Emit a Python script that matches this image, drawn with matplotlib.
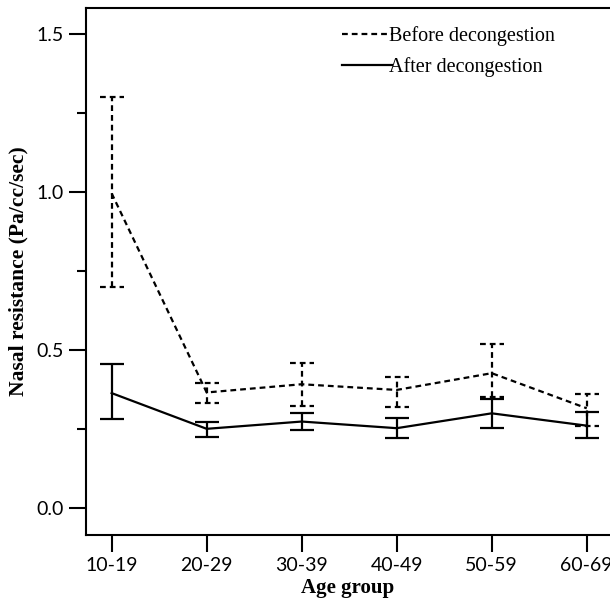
import matplotlib.pyplot as plt
from matplotlib.lines import Line2D

age_groups = ["10-19", "20-29", "30-39", "40-49", "50-59", "60-69"]

before_mean = [0.997, 0.367, 0.393, 0.375, 0.428, 0.317]
before_low = [0.702, 0.333, 0.324, 0.322, 0.354, 0.261]
before_high = [1.301, 0.398, 0.461, 0.417, 0.520, 0.361]

after_mean = [0.365, 0.252, 0.275, 0.254, 0.301, 0.262]
after_low = [0.282, 0.227, 0.248, 0.222, 0.254, 0.222]
after_high = [0.456, 0.275, 0.303, 0.287, 0.346, 0.306]

serif = "Liberation Serif"
tickfont = "Lato"
lw = 1.6
dash = (2.6, 1.8)
cap = 0.125

fig = plt.figure(figsize=(6.1, 6.0), dpi=100)
ax = fig.add_axes([86 / 610, 1 - 534.7 / 600, 1 - 86 / 610, (534.7 - 7.5) / 600])

x = list(range(len(age_groups)))

# before decongestion: dashed line, dashed bars and caps
ax.plot(x, before_mean, color="black", lw=lw, linestyle=(0, dash))
ax.vlines(x, before_low, before_high, color="black", lw=lw, linestyle=(0, dash))
ax.hlines(before_low, [i - cap for i in x], [i + cap for i in x],
          color="black", lw=lw, linestyle=(0, dash))
ax.hlines(before_high, [i - cap for i in x], [i + cap for i in x],
          color="black", lw=lw, linestyle=(0, dash))

# after decongestion: solid
ax.plot(x, after_mean, color="black", lw=lw)
ax.vlines(x, after_low, after_high, color="black", lw=lw)
ax.hlines(after_low, [i - cap for i in x], [i + cap for i in x], color="black", lw=lw)
ax.hlines(after_high, [i - cap for i in x], [i + cap for i in x], color="black", lw=lw)

ax.set_xlim(-0.27, 5.245)
ax.set_ylim(-0.083, 1.585)
ax.set_xticks(x)
ax.set_xticklabels(age_groups, fontfamily=tickfont, fontsize=14)
ax.set_yticks([0.0, 0.5, 1.0, 1.5])
ax.set_yticklabels(["0.0", "0.5", "1.0", "1.5"], fontfamily=tickfont, fontsize=14)
ax.set_yticks([0.25, 0.75, 1.25], minor=True)
ax.tick_params(axis="both", which="major", length=12, width=1.5, pad=4)
ax.tick_params(axis="y", which="minor", length=6.5, width=1.5)

for side in ["left", "bottom", "top"]:
    ax.spines[side].set_linewidth(1.5)
ax.spines["right"].set_visible(False)

ax.set_xlabel("Age group", fontfamily=serif, fontweight="bold", fontsize=15, labelpad=3)
ax.set_ylabel("Nasal resistance (Pa/cc/sec)", fontfamily=serif, fontweight="bold",
              fontsize=15.5, labelpad=6)

handles = [
    Line2D([], [], color="black", lw=lw, linestyle=(0, dash)),
    Line2D([], [], color="black", lw=lw),
]
ax.legend(handles, ["Before decongestion", "After decongestion"],
          loc="upper left", bbox_to_anchor=(342 / 610, 1 - 26 / 600),
          bbox_transform=fig.transFigure, frameon=False,
          prop={"family": serif, "size": 14.5}, handlelength=2.5,
          handletextpad=-0.15, borderpad=0, borderaxespad=0, labelspacing=0.54)

fig.savefig("out.png", dpi=100)
